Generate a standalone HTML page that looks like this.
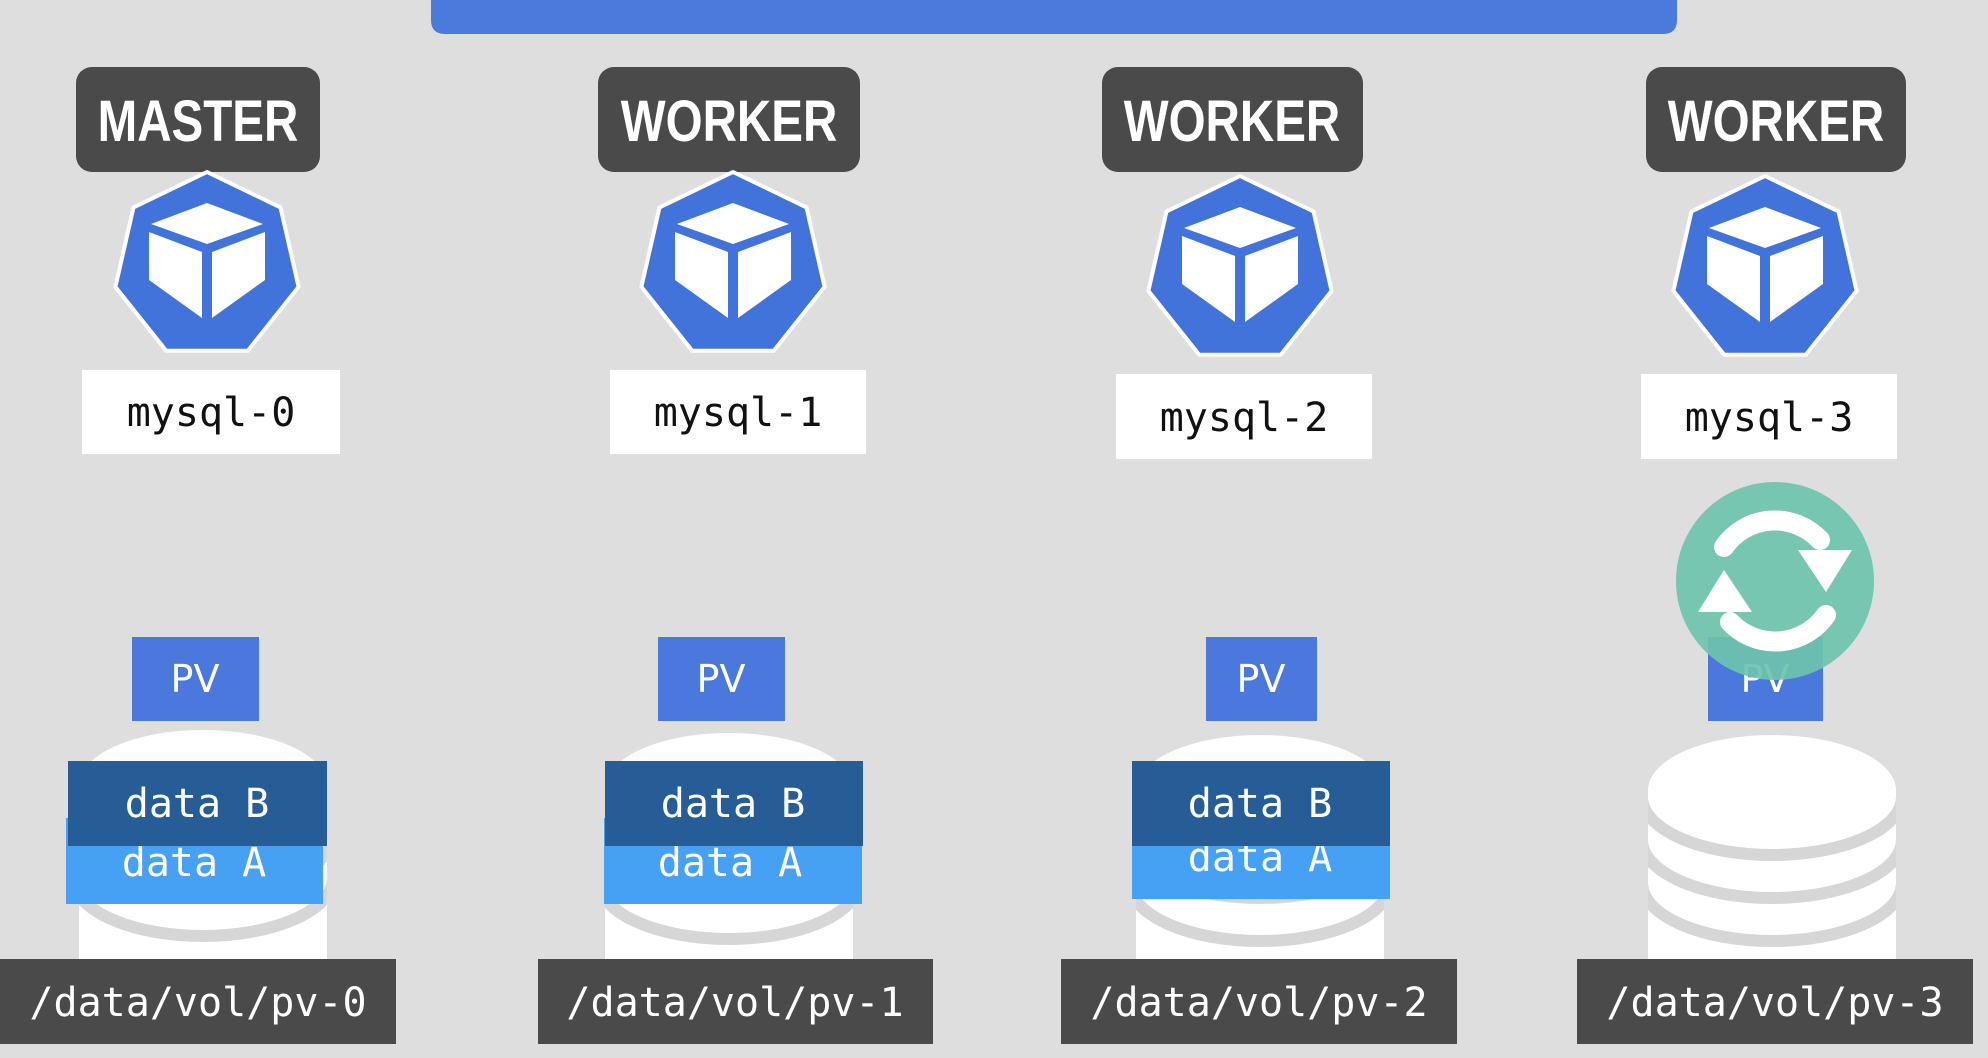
<!DOCTYPE html>
<html><head><meta charset="utf-8"><style>
html,body{margin:0;padding:0;background:#dedede;}
svg{display:block}
.lbl{font-family:"Liberation Sans",sans-serif;font-weight:bold;font-size:58px;fill:#fff;}
.mono{font-family:"DejaVu Sans Mono","Liberation Mono",monospace;font-size:40px;}
.pv{font-family:"DejaVu Sans","Liberation Sans",sans-serif;font-size:38px;fill:#fff;}
</style></head><body>
<svg width="1988" height="1058" viewBox="0 0 1988 1058" xmlns="http://www.w3.org/2000/svg">
<defs>
<clipPath id="cc"><rect x="-124" y="0" width="248" height="240"/></clipPath>
<g id="hep">
<polygon points="0,-94 73.5,-58.6 91.6,20.9 40.8,84.7 -40.8,84.7 -91.6,20.9 -73.5,-58.6" fill="#4173db" stroke="#fff" stroke-width="4" stroke-linejoin="round"/>
<polygon points="0,-63 56,-42 0,-22 -56,-42" fill="#fff"/>
<polygon points="-58,-34 -5,-14 -5,52 -58,14" fill="#fff"/>
<polygon points="58,-34 5,-14 5,52 58,14" fill="#fff"/>
</g>
<g id="cyl">
<g clip-path="url(#cc)">
<rect x="-124" y="55" width="248" height="175" fill="#fff"/>
<path d="M-130 62 A130 58 0 0 0 130 62" fill="none" stroke="#d6d6d6" stroke-width="12"/>
<path d="M-130 105 A130 58 0 0 0 130 105" fill="none" stroke="#d6d6d6" stroke-width="12"/>
<path d="M-130 148 A130 58 0 0 0 130 148" fill="none" stroke="#d6d6d6" stroke-width="12"/>
</g>
<ellipse cx="0" cy="55" rx="124" ry="55" fill="#fff"/>
</g>
</defs>
<rect width="1988" height="1058" fill="#dedede"/>
<path d="M431 0 H1677 V20 Q1677 34 1663 34 H445 Q431 34 431 20 Z" fill="#4a7bdc"/>

<rect x="76" y="67" width="244" height="105" rx="16" fill="#4a4a4a"/>
<text class="lbl" x="198" y="141" text-anchor="middle" transform="translate(198 0) scale(0.82 1) translate(-198 0)">MASTER</text>
<rect x="598" y="67" width="262" height="105" rx="16" fill="#4a4a4a"/>
<text class="lbl" x="729" y="141" text-anchor="middle" transform="translate(729 0) scale(0.82 1) translate(-729 0)">WORKER</text>
<rect x="1102" y="67" width="261" height="105" rx="16" fill="#4a4a4a"/>
<text class="lbl" x="1232" y="141" text-anchor="middle" transform="translate(1232 0) scale(0.82 1) translate(-1232 0)">WORKER</text>
<rect x="1646" y="67" width="260" height="105" rx="16" fill="#4a4a4a"/>
<text class="lbl" x="1776" y="141" text-anchor="middle" transform="translate(1776 0) scale(0.82 1) translate(-1776 0)">WORKER</text>

<use href="#hep" transform="translate(207 266)"/>
<use href="#hep" transform="translate(733 266)"/>
<use href="#hep" transform="translate(1240 270)"/>
<use href="#hep" transform="translate(1765 270)"/>

<rect x="82" y="370" width="258" height="84" fill="#fff"/>
<text class="mono" x="211" y="426" text-anchor="middle" fill="#111">mysql-0</text>
<rect x="610" y="370" width="256" height="84" fill="#fff"/>
<text class="mono" x="738" y="426" text-anchor="middle" fill="#111">mysql-1</text>
<rect x="1116" y="374" width="256" height="85" fill="#fff"/>
<text class="mono" x="1244" y="431" text-anchor="middle" fill="#111">mysql-2</text>
<rect x="1641" y="374" width="256" height="85" fill="#fff"/>
<text class="mono" x="1769" y="431" text-anchor="middle" fill="#111">mysql-3</text>

<rect x="132" y="637" width="127" height="84" fill="#4a78dc"/>
<text class="pv" x="195" y="692" text-anchor="middle">PV</text>
<rect x="658" y="637" width="127" height="84" fill="#4a78dc"/>
<text class="pv" x="721" y="692" text-anchor="middle">PV</text>
<rect x="1206" y="637" width="111" height="84" fill="#4a78dc"/>
<text class="pv" x="1261" y="692" text-anchor="middle">PV</text>
<rect x="1708" y="637" width="115" height="84" fill="#4a78dc"/>
<text class="pv" x="1765" y="692" text-anchor="middle">PV</text>

<use href="#cyl" transform="translate(203 730)"/>
<use href="#cyl" transform="translate(729 733)"/>
<use href="#cyl" transform="translate(1260 735)"/>
<use href="#cyl" transform="translate(1772 735)"/>

<rect x="66" y="818" width="257" height="86" fill="#46a0f4"/>
<text class="mono" x="194" y="876" text-anchor="middle" fill="#fff">data A</text>
<rect x="68" y="761" width="259" height="85" fill="#275d96"/>
<text class="mono" x="197" y="817" text-anchor="middle" fill="#fff">data B</text>

<rect x="604" y="818" width="258" height="86" fill="#46a0f4"/>
<text class="mono" x="730" y="876" text-anchor="middle" fill="#fff">data A</text>
<rect x="605" y="761" width="258" height="85" fill="#275d96"/>
<text class="mono" x="733" y="817" text-anchor="middle" fill="#fff">data B</text>

<rect x="1132" y="843" width="258" height="56" fill="#46a0f4"/>
<text class="mono" x="1260" y="871" text-anchor="middle" fill="#fff">data A</text>
<rect x="1132" y="761" width="258" height="85" fill="#275d96"/>
<text class="mono" x="1260" y="817" text-anchor="middle" fill="#fff">data B</text>

<rect x="0" y="959" width="396" height="85" fill="#4a4a4a"/>
<text class="mono" x="198" y="1016" text-anchor="middle" fill="#fff">/data/vol/pv-0</text>
<rect x="538" y="959" width="395" height="85" fill="#4a4a4a"/>
<text class="mono" x="735" y="1016" text-anchor="middle" fill="#fff">/data/vol/pv-1</text>
<rect x="1061" y="959" width="396" height="85" fill="#4a4a4a"/>
<text class="mono" x="1259" y="1016" text-anchor="middle" fill="#fff">/data/vol/pv-2</text>
<rect x="1577" y="959" width="396" height="85" fill="#4a4a4a"/>
<text class="mono" x="1775" y="1016" text-anchor="middle" fill="#fff">/data/vol/pv-3</text>

<circle cx="1775" cy="581" r="99" fill="#6dc3ad" fill-opacity="0.92"/>
<g fill="none" stroke="#fff" stroke-width="20" stroke-linecap="round">
<path d="M1724 547 A62 62 0 0 1 1820 540"/>
<path d="M1826 615 A62 62 0 0 1 1730 622"/>
</g>
<polygon points="1798,550 1852,550 1826,592" fill="#fff"/>
<polygon points="1698,612 1752,612 1724,570" fill="#fff"/>
</svg>
</body></html>
